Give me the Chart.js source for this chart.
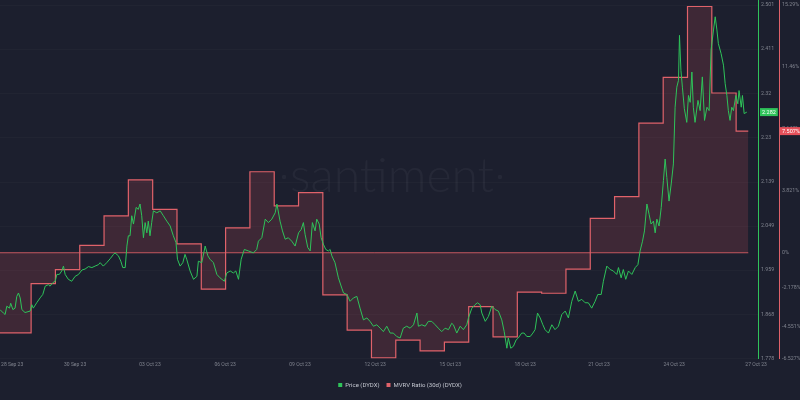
<!DOCTYPE html>
<html><head><meta charset="utf-8">
<script src="https://cdn.jsdelivr.net/npm/chart.js@4.4.0/dist/chart.umd.min.js"></script>
<style>html,body{margin:0;padding:0;background:#1c1f2e;overflow:hidden}</style>
</head><body>
<canvas id="c" width="800" height="400"></canvas>
<script>
// ---- data ----
const xTickLabels = ['28 Sep 23','30 Sep 23','03 Oct 23','06 Oct 23','09 Oct 23','12 Oct 23','15 Oct 23','18 Oct 23','21 Oct 23','24 Oct 23','27 Oct 23'];
const xTickDays   = [0.22, 2.81, 5.89, 8.98, 12.06, 15.15, 18.24, 21.32, 24.36, 27.45, 30.82];

const priceTickLabels = ['2.501','2.411','2.32','2.23','2.139','2.049','1.959','1.868','1.778'];
const mvrvTickLabels  = ['15.29%','11.46%','7.643%','3.821%','0%','-2.178%','-4.551%','-6.527%'];

// MVRV ratio (30d), one value per day (%)
const mvrvDaily = [-4.94,-1.91,-1.04,0.45,2.27,4.50,2.68,0.55,-2.25,1.54,5.00,2.89,3.71,-2.60,-4.77,-6.49,-5.39,-6.06,-5.52,-3.32,-5.19,-2.43,-2.50,-1.01,2.12,3.47,8.00,10.82,15.20,9.86,7.507];
const mvrvEndDay = 30.5;

// Price (DYDX): time in days, value in USD
const priceDays = [-0.28,-0.14,-0.07,0.00,0.11,0.16,0.25,0.34,0.41,0.48,0.55,0.62,0.75,0.96,1.03,1.09,1.23,1.37,1.48,1.58,1.71,1.78,1.89,1.99,2.06,2.16,2.26,2.33,2.40,2.53,2.67,2.81,2.95,3.09,3.22,3.36,3.50,3.63,3.77,3.84,3.97,4.11,4.25,4.39,4.45,4.59,4.69,4.77,4.87,4.94,5.00,5.07,5.14,5.21,5.32,5.41,5.48,5.55,5.62,5.69,5.76,5.82,5.89,5.96,6.03,6.17,6.31,6.44,6.58,6.72,6.85,6.96,7.02,7.13,7.24,7.33,7.40,7.54,7.68,7.82,7.88,8.02,8.16,8.27,8.36,8.50,8.64,8.77,8.95,9.05,9.19,9.32,9.42,9.53,9.64,9.77,9.94,10.14,10.28,10.35,10.49,10.63,10.76,10.90,11.04,11.11,11.24,11.34,11.45,11.58,11.72,11.86,12.00,12.11,12.20,12.27,12.38,12.48,12.57,12.68,12.75,12.85,12.93,13.02,13.12,13.23,13.30,13.37,13.50,13.64,13.78,13.85,13.99,14.12,14.26,14.40,14.53,14.67,14.81,14.94,15.08,15.22,15.36,15.49,15.63,15.77,15.90,16.04,16.18,16.31,16.45,16.59,16.73,16.87,16.93,17.07,17.21,17.34,17.48,17.62,17.75,17.89,18.03,18.17,18.30,18.37,18.51,18.65,18.78,18.92,18.99,19.13,19.26,19.36,19.47,19.54,19.68,19.81,19.95,20.09,20.22,20.36,20.46,20.57,20.63,20.73,20.84,20.95,21.04,21.18,21.28,21.39,21.53,21.64,21.73,21.83,21.94,22.05,22.14,22.28,22.42,22.55,22.69,22.83,22.97,23.10,23.24,23.38,23.51,23.65,23.79,23.92,24.06,24.20,24.31,24.45,24.54,24.68,24.82,24.95,25.09,25.16,25.27,25.36,25.46,25.57,25.71,25.85,25.96,26.05,26.15,26.23,26.33,26.42,26.50,26.60,26.67,26.74,26.83,26.92,27.01,27.08,27.15,27.24,27.33,27.42,27.49,27.56,27.63,27.67,27.73,27.79,27.87,27.97,28.04,28.11,28.18,28.24,28.31,28.43,28.52,28.61,28.70,28.80,28.89,28.97,29.07,29.14,29.21,29.27,29.38,29.48,29.55,29.62,29.68,29.75,29.82,29.89,29.99,30.07,30.12,30.21,30.26,30.33,30.44];
const priceValues = [1.878,1.871,1.868,1.885,1.881,1.891,1.878,1.881,1.905,1.912,1.902,1.878,1.872,1.875,1.888,1.881,1.892,1.902,1.909,1.926,1.929,1.926,1.933,1.936,1.950,1.950,1.957,1.967,1.950,1.940,1.936,1.946,1.950,1.959,1.961,1.966,1.964,1.967,1.970,1.974,1.967,1.974,1.982,1.991,1.994,1.988,1.977,1.964,1.964,2.008,2.029,2.029,2.070,2.053,2.087,2.083,2.094,2.070,2.025,2.056,2.035,2.059,2.029,2.056,2.080,2.076,2.080,2.070,2.059,2.049,2.029,2.015,1.981,1.967,1.974,1.991,1.981,1.957,1.940,1.946,1.977,1.974,2.008,1.988,1.981,1.974,1.950,1.943,1.936,1.953,1.957,1.953,1.957,1.940,1.981,2.001,1.998,1.994,2.001,2.018,2.025,2.063,2.056,2.063,2.076,2.094,2.059,2.039,2.022,2.025,2.018,2.008,2.035,2.042,2.056,2.032,2.005,1.998,2.056,2.039,2.063,2.053,2.025,2.012,2.001,1.998,2.001,1.988,1.974,1.943,1.922,1.912,1.909,1.895,1.902,1.905,1.881,1.857,1.861,1.854,1.844,1.847,1.840,1.833,1.844,1.830,1.830,1.823,1.820,1.840,1.844,1.840,1.847,1.871,1.844,1.847,1.844,1.854,1.854,1.847,1.840,1.833,1.840,1.837,1.850,1.847,1.830,1.844,1.837,1.847,1.861,1.881,1.888,1.892,1.888,1.871,1.854,1.864,1.885,1.878,1.875,1.857,1.833,1.799,1.820,1.799,1.803,1.816,1.820,1.830,1.830,1.823,1.823,1.830,1.837,1.871,1.861,1.847,1.837,1.830,1.847,1.837,1.844,1.868,1.875,1.861,1.895,1.916,1.895,1.899,1.892,1.892,1.881,1.895,1.909,1.909,1.936,1.967,1.960,1.957,1.950,1.964,1.943,1.960,1.940,1.957,1.950,1.964,1.970,1.998,2.018,2.039,2.094,2.073,2.053,2.059,2.035,2.063,2.049,2.087,2.142,2.186,2.148,2.100,2.135,2.176,2.292,2.333,2.347,2.439,2.367,2.333,2.289,2.261,2.316,2.302,2.364,2.292,2.261,2.306,2.285,2.354,2.265,2.292,2.285,2.409,2.450,2.477,2.450,2.422,2.402,2.378,2.340,2.316,2.285,2.265,2.292,2.285,2.316,2.299,2.326,2.292,2.316,2.279,2.282];

// ---- styling ----
const BG = '#1c1f2e';
const priceColor = '#2fc35a';
const mvrvColor = '#e0626a';
const tickColor = '#80848f';
const FONT = 'Roboto';
const X_MIN = -0.28, X_MAX = 30.9;
const PRICE_MIN = 1.778, PRICE_MAX = 2.5113;
const MVRV_MIN = -6.527, MVRV_MAX = 15.60;

const pricePoints = priceDays.map((d, i) => ({ x: d, y: priceValues[i] }));
const mvrvPoints = mvrvDaily.map((v, i) => ({ x: i === 0 ? X_MIN : i, y: v }));
mvrvPoints.push({ x: mvrvEndDay, y: mvrvDaily[mvrvDaily.length - 1] });
const zeroLine = [{ x: X_MIN, y: 0 }, { x: mvrvEndDay, y: 0 }];

const parseNum = s => parseFloat(s.replace('%', ''));

const bgPlugin = {
  id: 'bg',
  beforeDraw(chart) {
    const ctx = chart.ctx;
    ctx.save();
    ctx.fillStyle = BG;
    ctx.fillRect(0, 0, chart.width, chart.height);
    ctx.font = '300 48px Lato';
    ctx.fillStyle = 'rgba(255,255,255,0.045)';
    ctx.textAlign = 'center';
    ctx.textBaseline = 'alphabetic';
    const cx = 392, by = 192;
    ctx.fillText('santiment', cx, by);
    const w = ctx.measureText('santiment').width;
    ctx.beginPath();
    ctx.arc(cx - w / 2 - 6, by - 15, 2.2, 0, Math.PI * 2);
    ctx.arc(cx + w / 2 + 6, by - 15, 2.2, 0, Math.PI * 2);
    ctx.fill();
    ctx.restore();
  }
};

function drawBadge(ctx, x, y, text, color) {
  ctx.save();
  ctx.font = '5.5px ' + FONT;
  const w = ctx.measureText(text).width + 4;
  ctx.fillStyle = color;
  ctx.fillRect(x, y - 4, w, 8);
  ctx.fillStyle = '#ffffff';
  ctx.textBaseline = 'middle';
  ctx.textAlign = 'left';
  ctx.fillText(text, x + 2, y + 0.5);
  ctx.restore();
}

const badgePlugin = {
  id: 'badges',
  afterDraw(chart) {
    const ctx = chart.ctx;
    const yp = chart.scales.yPrice, ym = chart.scales.yMvrv;
    const lp = priceValues[priceValues.length - 1];
    const lm = mvrvDaily[mvrvDaily.length - 1];
    drawBadge(ctx, yp.left + 2, yp.getPixelForValue(lp), lp.toFixed(3), priceColor);
    drawBadge(ctx, ym.left + 1, ym.getPixelForValue(lm), lm.toFixed(3) + '%', '#e5505a');
  }
};

new Chart(document.getElementById('c'), {
  type: 'line',
  data: {
    datasets: [
      { label: 'Price (DYDX)', data: pricePoints, yAxisID: 'yPrice', borderColor: priceColor,
        borderWidth: 1, pointRadius: 0, tension: 0, fill: false, order: 0 },
      { label: 'MVRV Ratio (30d) (DYDX)', data: mvrvPoints, yAxisID: 'yMvrv', borderColor: mvrvColor,
        backgroundColor: 'rgba(200,80,90,0.2)', borderWidth: 1.2, stepped: true, fill: 'origin',
        pointRadius: 0, order: 1 },
      { label: 'zero', data: zeroLine, yAxisID: 'yMvrv', borderColor: 'rgba(224,98,106,0.85)',
        borderWidth: 1, pointRadius: 0, fill: false, order: 2 }
    ]
  },
  options: {
    responsive: false,
    animation: false,
    devicePixelRatio: 1,
    layout: { padding: { top: 0, left: 0, right: 0, bottom: 2 } },
    scales: {
      x: {
        type: 'linear', min: X_MIN, max: X_MAX,
        grid: { display: false, drawTicks: false },
        border: { display: false },
        ticks: { color: tickColor, font: { size: 5, family: FONT }, padding: 3, autoSkip: false, maxRotation: 0,
                 callback: (v, i) => xTickLabels[i] },
        afterBuildTicks: s => { s.ticks = xTickDays.map(v => ({ value: v })); },
        afterFit: s => { s.paddingLeft = 0; s.paddingRight = 0; s.height = 16.5; }
      },
      yPrice: {
        type: 'linear', position: 'right', min: PRICE_MIN, max: PRICE_MAX,
        grid: { color: 'rgba(255,255,255,0.022)', drawTicks: false },
        border: { display: true, color: priceColor, width: 1 },
        ticks: { color: tickColor, font: { size: 5.3, family: FONT }, padding: 3,
                 callback: (v, i) => priceTickLabels[i] },
        afterBuildTicks: s => { s.ticks = priceTickLabels.map(t => ({ value: parseNum(t) })); },
        afterFit: s => { s.width = 21; s.paddingTop = 0; s.paddingBottom = 0; }
      },
      yMvrv: {
        type: 'linear', position: 'right', min: MVRV_MIN, max: MVRV_MAX,
        grid: { display: false, drawTicks: false },
        border: { display: true, color: mvrvColor, width: 1 },
        ticks: { color: tickColor, font: { size: 5.3, family: FONT }, padding: 3,
                 callback: (v, i) => mvrvTickLabels[i] },
        afterBuildTicks: s => { s.ticks = mvrvTickLabels.map(t => ({ value: parseNum(t) })); },
        afterFit: s => { s.width = 21; s.paddingTop = 0; s.paddingBottom = 0; }
      }
    },
    plugins: {
      tooltip: { enabled: false },
      legend: {
        position: 'bottom',
        labels: {
          boxWidth: 4, boxHeight: 4, padding: 7, color: '#c4c7d0',
          font: { size: 6, family: FONT },
          generateLabels: () => [
            { text: 'Price (DYDX)', fillStyle: priceColor, strokeStyle: priceColor, lineWidth: 0, fontColor: '#c4c7d0', hidden: false, datasetIndex: 0 },
            { text: 'MVRV Ratio (30d) (DYDX)', fillStyle: mvrvColor, strokeStyle: mvrvColor, lineWidth: 0, fontColor: '#c4c7d0', hidden: false, datasetIndex: 1 }
          ]
        }
      }
    }
  },
  plugins: [bgPlugin, badgePlugin]
});
</script>
</body></html>
